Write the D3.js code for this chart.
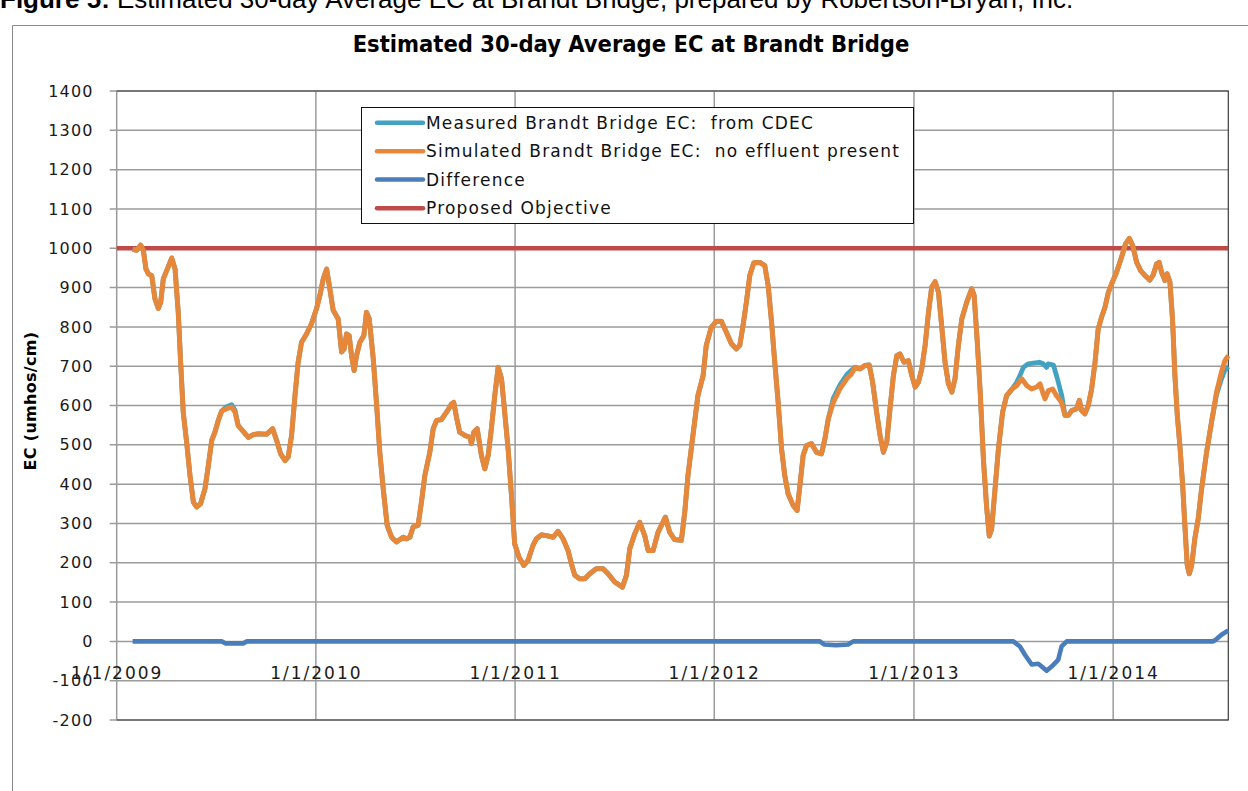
<!DOCTYPE html>
<html>
<head>
<meta charset="utf-8">
<script src="https://cdn.jsdelivr.net/npm/d3@7"></script>
<style>
  body { margin: 0; background: #fff; }
  svg { display: block; }
</style>
</head>
<body>
<svg id="chart" width="1248" height="791"></svg>
<script>
// values: [years since 1/1/2009, EC umhos/cm]
const simulated = [
  [0.080,997],[0.100,995],[0.120,1008],[0.134,994],[0.147,947],[0.159,935],[0.176,930],[0.192,871],
  [0.209,847],[0.221,863],[0.234,922],[0.254,947],[0.276,975],[0.293,947],[0.309,837],[0.321,710],
  [0.334,583],[0.351,507],[0.368,422],[0.385,354],[0.401,342],[0.421,350],[0.443,388],[0.460,447],
  [0.477,511],[0.493,532],[0.510,562],[0.527,586],[0.552,592],[0.577,596],[0.594,583],[0.610,549],
  [0.635,534],[0.661,519],[0.686,526],[0.711,528],[0.753,527],[0.783,541],[0.803,511],[0.823,477],
  [0.845,460],[0.861,469],[0.878,524],[0.895,625],[0.911,710],[0.928,761],[0.953,782],[0.978,808],
  [1.003,846],[1.020,880],[1.037,922],[1.054,947],[1.070,897],[1.087,842],[1.112,820],[1.129,736],
  [1.142,744],[1.154,782],[1.167,778],[1.179,727],[1.192,689],[1.204,727],[1.221,761],[1.241,778],
  [1.254,837],[1.268,820],[1.288,719],[1.304,608],[1.321,481],[1.338,388],[1.358,295],[1.380,265],
  [1.405,253],[1.438,265],[1.455,261],[1.472,265],[1.488,291],[1.513,295],[1.530,354],[1.547,422],
  [1.572,481],[1.589,541],[1.606,562],[1.630,564],[1.656,583],[1.681,604],[1.692,608],[1.706,570],
  [1.722,532],[1.748,524],[1.773,519],[1.781,503],[1.793,532],[1.810,541],[1.831,473],[1.848,439],
  [1.865,473],[1.881,541],[1.898,625],[1.915,697],[1.932,668],[1.948,583],[1.965,490],[1.982,371],
  [1.998,248],[2.020,214],[2.044,193],[2.065,206],[2.090,244],[2.107,261],[2.132,271],[2.157,269],
  [2.191,265],[2.216,280],[2.241,261],[2.266,231],[2.283,197],[2.300,168],[2.325,159],[2.350,159],
  [2.375,172],[2.408,185],[2.442,185],[2.467,172],[2.500,151],[2.539,138],[2.559,168],[2.576,236],
  [2.601,274],[2.626,303],[2.651,269],[2.668,231],[2.693,231],[2.718,278],[2.755,316],[2.776,278],
  [2.801,259],[2.835,257],[2.852,329],[2.868,422],[2.893,524],[2.918,625],[2.944,676],[2.960,753],
  [2.985,799],[3.010,814],[3.036,814],[3.061,786],[3.086,757],[3.111,744],[3.128,753],[3.144,803],
  [3.161,863],[3.178,931],[3.198,963],[3.228,964],[3.253,956],[3.270,905],[3.287,812],[3.303,710],
  [3.320,608],[3.337,490],[3.353,422],[3.370,375],[3.395,346],[3.415,333],[3.429,397],[3.445,473],
  [3.462,498],[3.487,503],[3.512,481],[3.537,477],[3.554,515],[3.571,566],[3.596,608],[3.629,642],
  [3.663,668],[3.688,681],[3.705,697],[3.730,693],[3.755,702],[3.776,703],[3.793,659],[3.813,583],
  [3.830,524],[3.847,481],[3.864,507],[3.880,592],[3.897,676],[3.914,727],[3.930,731],[3.950,710],
  [3.972,714],[3.989,676],[4.006,647],[4.022,659],[4.039,693],[4.056,753],[4.073,837],[4.089,901],
  [4.106,915],[4.123,888],[4.139,803],[4.156,710],[4.173,655],[4.190,634],[4.206,668],[4.223,753],
  [4.240,820],[4.265,863],[4.290,897],[4.302,880],[4.318,760],[4.332,640],[4.349,460],[4.365,340],
  [4.378,268],[4.390,286],[4.407,388],[4.424,490],[4.445,583],[4.465,625],[4.491,641],[4.516,651],
  [4.541,668],[4.566,651],[4.591,642],[4.616,647],[4.633,655],[4.646,634],[4.658,617],[4.675,638],
  [4.696,642],[4.716,625],[4.741,608],[4.758,575],[4.775,575],[4.792,587],[4.817,592],[4.830,613],
  [4.842,587],[4.858,579],[4.875,600],[4.892,642],[4.909,710],[4.925,795],[4.942,825],[4.959,850],
  [4.976,888],[4.992,909],[5.017,939],[5.042,977],[5.062,1011],[5.081,1025],[5.098,1007],[5.118,964],
  [5.138,943],[5.159,931],[5.184,919],[5.201,932],[5.218,960],[5.231,964],[5.243,939],[5.260,918],
  [5.271,935],[5.285,914],[5.298,820],[5.310,676],[5.322,575],[5.335,498],[5.349,397],[5.360,295],
  [5.372,193],[5.382,172],[5.394,193],[5.410,261],[5.427,312],[5.444,388],[5.469,481],[5.494,558],
  [5.519,634],[5.544,685],[5.561,714],[5.578,727]
];

// measured CDEC values only where they visibly part from the simulated line
const measuredWindows = [[0.54, 0.60], [3.59, 3.70], [4.51, 4.745], [5.515, 5.58]];
const measuredOwn = [
  [0.552,597],[0.577,602],[0.594,588],
  [3.596,618],[3.629,652],[3.663,678],[3.688,690],
  [4.516,659],[4.532,676],[4.549,697],[4.574,706],[4.599,708],[4.629,710],[4.649,706],
  [4.666,697],[4.674,706],[4.700,703],[4.720,668],[4.742,625],
  [5.519,628],[5.544,668],[5.561,690],[5.578,699]
];

const difference = [
  [0.080,0],[0.527,0],[0.545,-5],[0.635,-5],[0.654,0],[3.529,0],[3.550,-8],[3.610,-10],
  [3.670,-8],[3.696,0],[4.499,0],[4.532,-13],[4.557,-34],[4.591,-59],[4.624,-57],[4.641,-64],
  [4.666,-75],[4.691,-64],[4.724,-47],[4.741,-13],[4.767,0],[5.502,0],[5.519,6],[5.544,17],[5.578,28]
];

const objective = [[0,1000],[5.578,1000]];

const yTicks = d3.range(-200, 1401, 100);
const xTickYears = [2009, 2010, 2011, 2012, 2013, 2014];
const legendNames = [
  "Measured Brandt Bridge EC:  from CDEC",
  "Simulated Brandt Bridge EC:  no effluent present",
  "Difference",
  "Proposed Objective"
];
const legendColors = ["#43a2c2", "#e6873a", "#4a7ebb", "#be4b48"];

// measured = simulated outside the windows, own readings inside
let measured = simulated.filter(d => !measuredWindows.some(w => d[0] >= w[0] && d[0] <= w[1]))
  .concat(measuredOwn)
  .sort((a, b) => a[0] - b[0]);

function toDate(t){
  let yr = 2009 + Math.floor(t);
  let a = new Date(yr, 0, 1), b = new Date(yr + 1, 0, 1);
  return new Date(+a + (t - Math.floor(t)) * (b - a));
}

const svg = d3.select("#chart");
const plotLeft = 116.7, plotRight = 1228.3, plotTop = 91, plotBottom = 720;

const x = d3.scaleTime()
  .domain([new Date(2009, 0, 1), new Date(2014, 6, 31)])
  .range([plotLeft, plotRight]);
const y = d3.scaleLinear().domain([-200, 1400]).range([plotBottom, plotTop]);

// page header (cut off at top of the scan)
let hdr = svg.append("text").attr("x", 0).attr("y", 8)
  .style("font-family", "'Liberation Sans', Arial, sans-serif").style("font-size", "26px");
hdr.append("tspan").style("font-weight", "bold").text("Figure 5: ");
hdr.append("tspan").text("Estimated 30-day Average EC at Brandt Bridge, prepared by Robertson-Bryan, Inc.");

// chart frame
svg.append("path").attr("d", "M12.5,791 V25.5 H1248")
  .attr("fill", "none").attr("stroke", "#8a8a8a").attr("stroke-width", 1);

svg.append("text")
  .attr("x", 631).attr("y", 52)
  .attr("text-anchor", "middle")
  .style("font-family", "'Liberation Sans Narrow', 'DejaVu Sans Condensed', 'Liberation Sans', sans-serif")
  .style("font-weight", "bold").style("font-size", "23.5px")
  .text("Estimated 30-day Average EC at Brandt Bridge");

// grid
svg.append("g").selectAll("line").data(yTicks).enter().append("line")
  .attr("x1", plotLeft - 7).attr("x2", plotRight)
  .attr("y1", d => y(d)).attr("y2", d => y(d))
  .attr("stroke", "#9b9b9b").attr("stroke-width", 1.5);

svg.append("g").selectAll("line").data(xTickYears).enter().append("line")
  .attr("x1", d => x(new Date(d, 0, 1))).attr("x2", d => x(new Date(d, 0, 1)))
  .attr("y1", plotTop).attr("y2", plotBottom)
  .attr("stroke", "#9b9b9b").attr("stroke-width", 1.5);

svg.append("path")
  .attr("d", `M${plotLeft},${plotTop} H${plotRight} V${plotBottom} H${plotLeft}`)
  .attr("fill", "none").attr("stroke", "#3a3a3a").attr("stroke-width", 1.2);

// y axis labels
const yAxis = d3.axisLeft(y).tickValues(yTicks).tickFormat(d => String(d))
  .tickSize(0).tickPadding(0);
let ya = svg.append("g").attr("transform", `translate(${plotLeft - 23},0)`).call(yAxis);
ya.select(".domain").remove();
ya.selectAll("text")
  .style("font-family", "'DejaVu Sans', sans-serif").style("font-size", "16px")
  .style("letter-spacing", "1.2px").attr("fill", "#1a1a1a");

svg.append("text")
  .attr("transform", "translate(36,401) rotate(-90)")
  .attr("text-anchor", "middle")
  .style("font-family", "'DejaVu Sans', sans-serif")
  .style("font-weight", "bold").style("font-size", "16px")
  .style("letter-spacing", "0.3px")
  .text("EC (umhos/cm)");

// lines
const line = d3.line().x(d => x(toDate(d[0]))).y(d => y(d[1]));
const plot = svg.append("g");

plot.append("path").datum(objective).attr("d", line)
  .attr("fill", "none").attr("stroke", legendColors[3]).attr("stroke-width", 4.5);
plot.append("path").datum(measured).attr("d", line)
  .attr("fill", "none").attr("stroke", legendColors[0]).attr("stroke-width", 4.8)
  .attr("stroke-linejoin", "round");
plot.append("path").datum(simulated).attr("d", line)
  .attr("fill", "none").attr("stroke", legendColors[1]).attr("stroke-width", 5)
  .attr("stroke-linejoin", "round");
plot.append("path").datum(difference).attr("d", line)
  .attr("fill", "none").attr("stroke", legendColors[2]).attr("stroke-width", 4.6)
  .attr("stroke-linejoin", "round");

// x axis labels sit just under the zero line
const xAxis = d3.axisBottom(x)
  .tickValues(xTickYears.map(v => new Date(v, 0, 1)))
  .tickFormat(d3.timeFormat("%-m/%-d/%Y"))
  .tickSize(0).tickPadding(0);
let xa = svg.append("g").attr("transform", `translate(0,${y(0) + 38})`).call(xAxis);
xa.select(".domain").remove();
xa.selectAll("text")
  .attr("dy", 0)
  .style("font-family", "'DejaVu Sans', sans-serif").style("font-size", "17px")
  .style("letter-spacing", "2px").attr("fill", "#1a1a1a");

// legend
const lg = svg.append("g");
lg.append("rect").attr("x", 361.5).attr("y", 107.5).attr("width", 552).attr("height", 116)
  .attr("fill", "#fff").attr("stroke", "#111").attr("stroke-width", 1);
const rowY = [122.7, 151.3, 179.6, 208.3];
legendNames.forEach((name, i) => {
  lg.append("line").attr("x1", 377).attr("x2", 423).attr("y1", rowY[i]).attr("y2", rowY[i])
    .attr("stroke", legendColors[i]).attr("stroke-width", 4.5).attr("stroke-linecap", "round");
  lg.append("text").attr("x", 426).attr("y", rowY[i] + 6)
    .style("font-family", "'DejaVu Sans', sans-serif").style("font-size", "17px")
    .style("letter-spacing", "1.2px").style("white-space", "pre").attr("fill", "#111")
    .text(name);
});
</script>
</body>
</html>
